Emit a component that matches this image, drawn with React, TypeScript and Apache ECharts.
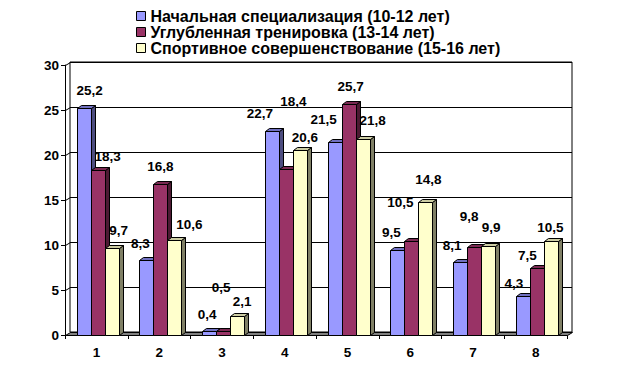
import React, { useEffect, useRef } from 'react';
import * as echarts from 'echarts';

const categories = ['1', '2', '3', '4', '5', '6', '7', '8'];
const seriesNames = [
  'Начальная специализация (10-12 лет)',
  'Углубленная тренировка (13-14 лет)',
  'Спортивное совершенствование (15-16 лет)',
];
const initialSpec = [25.2, 8.3, 0.4, 22.7, 21.5, 9.5, 8.1, 4.3];
const deepTraining = [18.3, 16.8, 0.5, 18.4, 25.7, 10.5, 9.8, 7.5];
const sportImprovement = [9.7, 10.6, 2.1, 20.6, 21.8, 14.8, 9.9, 10.5];
const yTicks = [0, 5, 10, 15, 20, 25, 30];

// styling
const FACE = ['#9999FF', '#993366', '#FFFFCC'];
const TOP = ['#7070C0', '#7A2952', '#CCCCA3'];
const SIDE = ['#4D4D80', '#4D1A33', '#808066'];
const BAR_W = 14;
const DX = 4;
const DY = 3;
const FONT = '"Liberation Sans", Arial, sans-serif';
// label nudges (dx, dy) relative to the bar's front-top centre, per series
const labelNudge = [
  [[6, -18], [-6, -17], [-2, -17], [-12, -17], [-11, -22], [-6, -17.5], [-8, -17], [-9, -13]],
  [[10, -14], [0, -17], [-2, -43], [7.5, -68], [2, -17], [-11, -38], [-5, -30], [-9.5, -12.5]],
  [[7, -17], [15, -15.6], [5, -15], [5, -12], [10, -18], [3, -22], [3, -18], [-0.5, -13.5]],
];

const fmt = (v: number) => v.toFixed(1).replace('.', ',');

function barSeries(name: string, values: number[], s: number) {
  return {
    type: 'custom',
    name,
    xAxisIndex: 0,
    yAxisIndex: 0,
    z: 3,
    itemStyle: { color: FACE[s], borderColor: '#000', borderWidth: 1 },
    encode: { x: 0, y: 1 },
    data: values.map((v, i) => [i, v]),
    renderItem: (params: any, api: any) => {
      const cat = api.value(0);
      const v = api.value(1);
      const p = api.coord([cat, v]);
      const b = api.coord([cat, 0]);
      const cx = p[0] + 1.3 + (s - 1) * BAR_W;
      const x0 = Math.round(cx - BAR_W / 2) + 0.5;
      const x1 = x0 + BAR_W;
      const yt = Math.round(p[1]) + 0.5;
      const yb = Math.round(b[1]) + 0.5;
      const st = { stroke: '#000', lineWidth: 1 };
      const n = labelNudge[s][cat];
      return {
        type: 'group',
        children: [
          {
            type: 'polygon',
            shape: { points: [[x1, yt], [x1 + DX, yt - DY], [x1 + DX, yb - DY], [x1, yb]] },
            style: { fill: SIDE[s], ...st },
          },
          {
            type: 'polygon',
            shape: { points: [[x0, yt], [x0 + DX, yt - DY], [x1 + DX, yt - DY], [x1, yt]] },
            style: { fill: TOP[s], ...st },
          },
          {
            type: 'rect',
            shape: { x: x0, y: yt, width: BAR_W, height: yb - yt },
            style: { fill: FACE[s], ...st },
          },
          {
            type: 'text',
            x: cx + n[0],
            y: p[1] + n[1],
            style: {
              text: fmt(v),
              fill: '#000',
              font: `bold 13.5px ${FONT}`,
              align: 'center',
              verticalAlign: 'middle',
            },
          },
        ],
      };
    },
  };
}

export default function App() {
  const ref = useRef<HTMLDivElement>(null);
  useEffect(() => {
    if (!ref.current) return;
    const chart = echarts.init(ref.current, null, { renderer: 'svg' });
    chart.setOption({
      animation: false,
      backgroundColor: '#fff',
      legend: {
        orient: 'vertical',
        left: 131,
        top: 3,
        padding: 5,
        itemWidth: 9,
        itemHeight: 9,
        itemGap: 0,
        icon: 'rect',
        selectedMode: false,
        textStyle: { fontFamily: FONT, fontWeight: 'bold', fontSize: 16, color: '#000', lineHeight: 16 },
        data: seriesNames.map((n, i) => ({
          name: n,
          itemStyle: { color: FACE[i], borderColor: '#000', borderWidth: 1 },
        })),
      },
      grid: [
        { left: 65, right: 56, top: 65, bottom: 39 },
        { left: 70, right: 51, top: 62, bottom: 42, show: true, borderColor: '#000', borderWidth: 1, backgroundColor: 'transparent' },
      ],
      xAxis: [
        {
          type: 'category',
          gridIndex: 0,
          data: categories,
          axisLine: { lineStyle: { color: '#000', width: 1 } },
          axisTick: { show: true, length: 4, lineStyle: { color: '#000' } },
          axisLabel: { color: '#000', fontFamily: FONT, fontWeight: 'bold', fontSize: 13.5, margin: 10 },
          splitLine: { show: false },
        },
        { type: 'category', gridIndex: 1, data: categories, show: false },
      ],
      yAxis: [
        {
          type: 'value',
          gridIndex: 0,
          min: 0,
          max: 30,
          interval: 5,
          axisLine: { show: true, lineStyle: { color: '#000', width: 1 } },
          axisTick: { show: true, length: 4, lineStyle: { color: '#000' } },
          axisLabel: { color: '#000', fontFamily: FONT, fontWeight: 'bold', fontSize: 13.5, margin: 6 },
          splitLine: { show: false },
        },
        {
          type: 'value',
          gridIndex: 1,
          min: 0,
          max: 30,
          interval: 5,
          axisLine: { show: false },
          axisTick: { show: false },
          axisLabel: { show: false },
          splitLine: { show: true, lineStyle: { color: '#000', width: 1 } },
        },
      ],
      series: [
        {
          type: 'custom',
          name: 'floor',
          xAxisIndex: 0,
          yAxisIndex: 0,
          z: 1,
          silent: true,
          encode: { x: 0, y: 1 },
          data: yTicks.map((t) => [0, t]),
          renderItem: (params: any, api: any) => {
            const cs = params.coordSys;
            const y = Math.round(api.coord([0, api.value(1)])[1]) + 0.5;
            const x = Math.round(cs.x) + 0.5;
            if (api.value(1) === 0) {
              const w = cs.width;
              return {
                type: 'polygon',
                shape: { points: [[x, y], [x + 5, y - 3], [x + w + 5, y - 3], [x + w, y]] },
                style: { fill: '#808080', stroke: '#000', lineWidth: 1 },
              };
            }
            return {
              type: 'line',
              shape: { x1: x, y1: y, x2: x + 5, y2: y - 3 },
              style: { stroke: '#000', lineWidth: 1 },
            };
          },
        },
        barSeries(seriesNames[0], initialSpec, 0),
        barSeries(seriesNames[1], deepTraining, 1),
        barSeries(seriesNames[2], sportImprovement, 2),
      ],
    });
    return () => chart.dispose();
  }, []);
  return <div ref={ref} style={{ position: 'fixed', left: 0, top: 0, width: 623, height: 374 }} />;
}
